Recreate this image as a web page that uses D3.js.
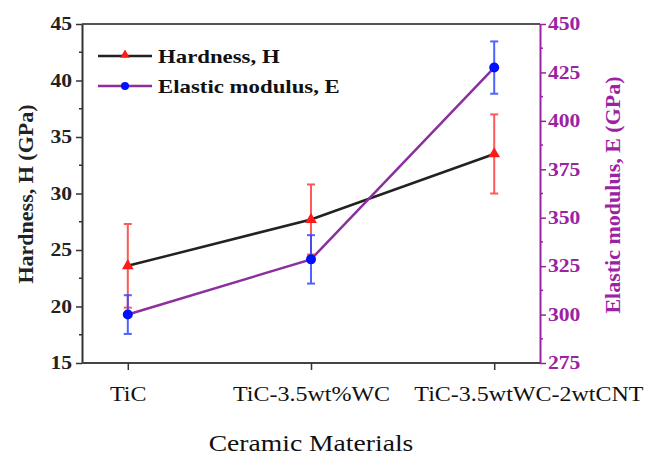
<!DOCTYPE html>
<html>
<head>
<meta charset="utf-8">
<script src="https://cdn.jsdelivr.net/npm/d3@7"></script>
<style>
  body { margin: 0; background: #fff; }
  svg text { font-family: "Liberation Serif", "Times New Roman", serif; }
</style>
</head>
<body>
<svg id="chart" width="645" height="455"></svg>
<script>
// Materials on the x axis
const categories = ["TiC", "TiC-3.5wt%WC", "TiC-3.5wtWC-2wtCNT"];
// Hardness (GPa) with error
const hardness = [23.6, 27.7, 33.5];
const hardnessErr = [3.7, 3.1, 3.5];
// Elastic modulus (GPa) with error
const modulus = [300, 328.5, 427.5];
const modulusErr = [10, 12.5, 13.5];
// Axis ticks
const hardnessTicks = [15, 20, 25, 30, 35, 40, 45];
const hardnessMinor = [17.5, 22.5, 27.5, 32.5, 37.5, 42.5];
const modulusTicks = [275, 300, 325, 350, 375, 400, 425, 450];
const modulusMinor = [287.5, 312.5, 337.5, 362.5, 387.5, 412.5, 437.5];

const W = 645, H = 455;
const plot = { left: 82, right: 540, top: 24, bottom: 363 };
const purple = "#9b22a3";
const lineBlack = "#222";
const linePurple = "#8b2f9e";
const red = "#ff3b3b";
const blue = "#3048ff";
const wide = 1.2; // horizontal stretch of the serif lettering

const svg = d3.select("#chart");

const x = d3.scalePoint().domain(categories).range([plot.left, plot.right]).padding(0.25);
const yH = d3.scaleLinear().domain([15, 45]).range([plot.bottom, plot.top]);
const yE = d3.scaleLinear().domain([275, 450]).range([plot.bottom, plot.top]);

function stretch(sel) {
  sel.each(function () {
    const len = this.getComputedTextLength();
    d3.select(this).attr("textLength", len * wide).attr("lengthAdjust", "spacingAndGlyphs");
  });
}

// frame: top border
svg.append("line")
  .attr("x1", plot.left).attr("x2", plot.right)
  .attr("y1", plot.top).attr("y2", plot.top)
  .attr("stroke", "#555").attr("stroke-width", 2);

// left axis (hardness)
const gL = svg.append("g").attr("transform", `translate(${plot.left},0)`)
  .call(d3.axisLeft(yH).tickValues(hardnessTicks).tickSize(6).tickPadding(4).tickSizeOuter(0));
gL.select(".domain").attr("stroke", "#333").attr("stroke-width", 2);
gL.selectAll(".tick line").attr("stroke", "#333").attr("stroke-width", 1.5);
gL.selectAll(".tick text").attr("font-size", 18).attr("font-weight", "bold").attr("fill", "#222")
  .attr("font-family", "Liberation Serif").call(stretch);
gL.selectAll(".minor").data(hardnessMinor).enter().append("line")
  .attr("class", "minor").attr("x1", -3).attr("x2", 0)
  .attr("y1", d => yH(d)).attr("y2", d => yH(d))
  .attr("stroke", "#333").attr("stroke-width", 1.5);

// right axis (modulus)
const gR = svg.append("g").attr("transform", `translate(${plot.right},0)`)
  .call(d3.axisRight(yE).tickValues(modulusTicks).tickSize(6).tickPadding(2).tickSizeOuter(0));
gR.select(".domain").attr("stroke", purple).attr("stroke-width", 2);
gR.selectAll(".tick line").attr("stroke", purple).attr("stroke-width", 1.5);
gR.selectAll(".tick text").attr("font-size", 18).attr("font-weight", "bold").attr("fill", purple)
  .attr("font-family", "Liberation Serif").call(stretch);
gR.selectAll(".minor").data(modulusMinor).enter().append("line")
  .attr("class", "minor").attr("x1", 0).attr("x2", 3)
  .attr("y1", d => yE(d)).attr("y2", d => yE(d))
  .attr("stroke", purple).attr("stroke-width", 1.5);

// bottom axis
const gB = svg.append("g").attr("transform", `translate(0,${plot.bottom})`)
  .call(d3.axisBottom(x).tickSize(7).tickPadding(0).tickSizeOuter(0));
gB.select(".domain").attr("d", `M${plot.left},0H${plot.right}`).attr("stroke", "#444").attr("stroke-width", 2);
gB.selectAll(".tick line").attr("stroke", "#333").attr("stroke-width", 1.5);
gB.selectAll(".tick text").attr("font-size", 20).attr("font-weight", "normal").attr("fill", "#111")
  .attr("font-family", "Liberation Serif").attr("dy", null).attr("y", 38).call(stretch);
// last label is kept flush with the right edge of the figure
gB.selectAll(".tick").filter((d, i, n) => i === n.length - 1).select("text")
  .attr("text-anchor", "end")
  .attr("x", function () { return (W - 2) - x(categories[categories.length - 1]); });

// axis titles
svg.append("text")
  .attr("transform", `translate(33,194) rotate(-90)`)
  .attr("text-anchor", "middle").attr("font-size", 22).attr("font-weight", "bold").attr("fill", "#222")
  .text("Hardness, H (GPa)");
svg.append("text")
  .attr("transform", `translate(620,195) rotate(-90)`)
  .attr("text-anchor", "middle").attr("font-size", 22).attr("font-weight", "bold").attr("fill", purple)
  .text("Elastic modulus, E (GPa)");
svg.append("text")
  .attr("x", (plot.left + plot.right) / 2).attr("y", 451)
  .attr("text-anchor", "middle").attr("font-size", 23).attr("fill", "#111")
  .text("Ceramic Materials").call(stretch);

// series lines
const idx = d3.range(categories.length);
svg.append("path")
  .attr("d", d3.line().x(i => x(categories[i])).y(i => yH(hardness[i]))(idx))
  .attr("fill", "none").attr("stroke", lineBlack).attr("stroke-width", 2.5);
svg.append("path")
  .attr("d", d3.line().x(i => x(categories[i])).y(i => yE(modulus[i]))(idx))
  .attr("fill", "none").attr("stroke", linePurple).attr("stroke-width", 2.5);

// error bars
function errorBars(vals, errs, scale, color) {
  const g = svg.append("g").attr("stroke", color).attr("stroke-width", 2).attr("opacity", 0.85);
  idx.forEach(i => {
    const cx = x(categories[i]);
    const y1 = scale(vals[i] + errs[i]), y0 = scale(vals[i] - errs[i]);
    g.append("line").attr("x1", cx).attr("x2", cx).attr("y1", y1).attr("y2", y0);
    g.append("line").attr("x1", cx - 4).attr("x2", cx + 4).attr("y1", y1).attr("y2", y1);
    g.append("line").attr("x1", cx - 4).attr("x2", cx + 4).attr("y1", y0).attr("y2", y0);
  });
}
errorBars(hardness, hardnessErr, yH, red);
errorBars(modulus, modulusErr, yE, blue);

// markers
const tri = d3.symbol().type(d3.symbolTriangle).size(60);
svg.selectAll(".hmark").data(idx).enter().append("path")
  .attr("class", "hmark")
  .attr("transform", i => `translate(${x(categories[i])},${yH(hardness[i])})`)
  .attr("d", tri).attr("fill", "#ff1a1a");
svg.selectAll(".emark").data(idx).enter().append("circle")
  .attr("class", "emark")
  .attr("cx", i => x(categories[i])).attr("cy", i => yE(modulus[i]))
  .attr("r", 5).attr("fill", "#0010ff");

// legend
const legend = [
  { label: "Hardness, H", line: lineBlack, mark: "tri", color: "#ff1a1a" },
  { label: "Elastic modulus, E", line: linePurple, mark: "circle", color: "#0010ff" }
];
const lg = svg.append("g").attr("transform", "translate(98,56)");
legend.forEach((d, i) => {
  const row = lg.append("g").attr("transform", `translate(0,${i * 30})`);
  row.append("line").attr("x1", 0).attr("x2", 54).attr("y1", 0).attr("y2", 0)
    .attr("stroke", d.line).attr("stroke-width", 2.5);
  if (d.mark === "tri") {
    row.append("path").attr("transform", "translate(27,-1)").attr("d", d3.symbol().type(d3.symbolTriangle).size(40)).attr("fill", d.color);
  } else {
    row.append("circle").attr("cx", 27).attr("cy", 0).attr("r", 4).attr("fill", d.color);
  }
  row.append("text").attr("x", 60).attr("y", 7).attr("font-size", 19).attr("font-weight", "bold")
    .attr("fill", "#111").text(d.label).call(stretch);
});
</script>
</body>
</html>
